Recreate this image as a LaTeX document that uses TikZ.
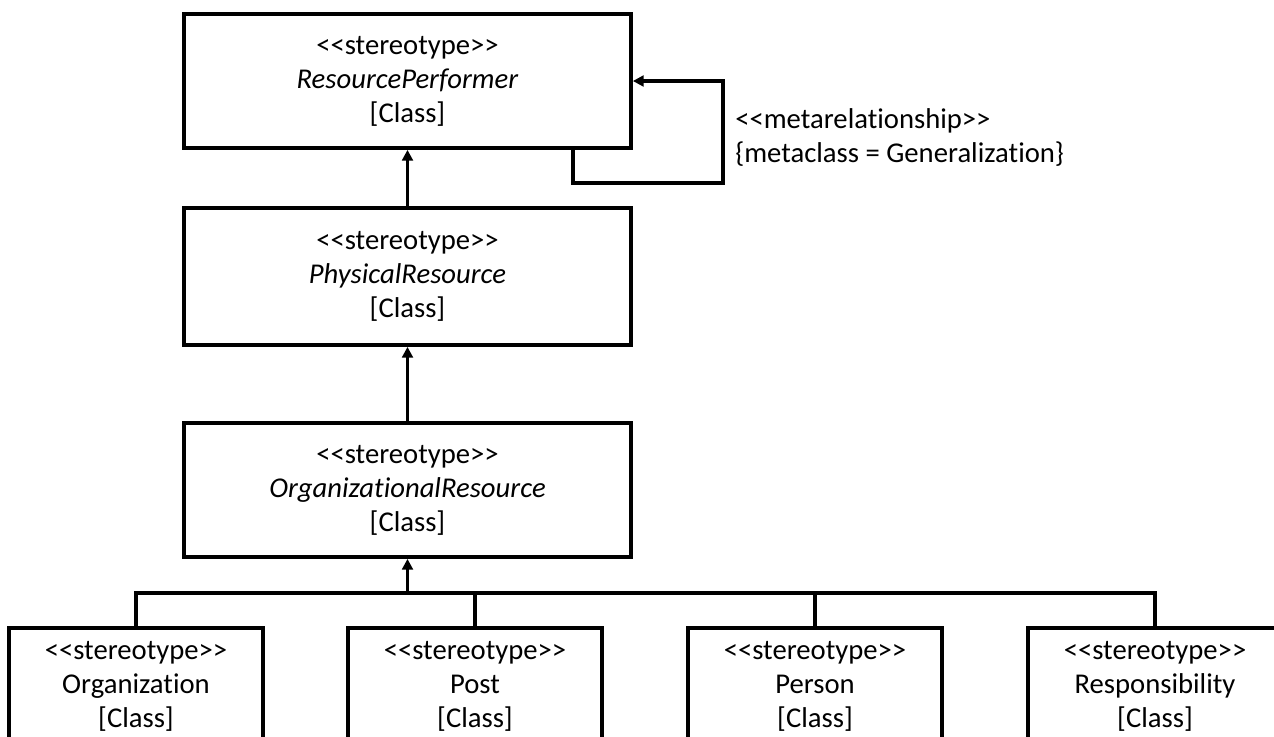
\documentclass[tikz,border=0pt]{standalone}
\usepackage{fontspec}
\setmainfont{Carlito}[Ligatures={TeX,CommonOff,ContextualOff},RawFeature={-calt}]
\usetikzlibrary{arrows.meta}
% double angle brackets and a plain "ti", written with kerns so no ligature is formed
\newcommand\dlt{<\kern0pt<}
\newcommand\dgt{>\kern0pt>}
\newcommand\tI{t\kern0pt i}
\begin{document}
\begin{tikzpicture}[x=0.75pt,y=-0.75pt,
  cls/.style={draw=black, line width=2.8pt, fill=white, align=center, inner sep=0pt,
    font=\fontsize{21.5}{25.5}\selectfont},
  wide/.style={minimum width=335.25pt, minimum height=100.5pt},
  leaf/.style={minimum width=190.5pt, minimum height=87pt},
  conn/.style={line width=2.6pt},
  gen/.style={conn, -{Triangle[length=8pt,width=8pt]}}]
\useasboundingbox (0,0) rectangle (1274,736);
\clip (0,0) rectangle (1274,736);

% upper chain of stereotypes
\node[cls,wide] (rp) at (407.5,81)
  {\dlt stereotype\dgt\\\textit{ResourcePerformer}\\{[Class]}};
\node[cls,wide,minimum height=102.75pt] (pr) at (407.5,276.5)
  {\dlt stereotype\dgt\\\textit{PhysicalResource}\\{[Class]}};
\node[cls,wide] (or) at (407.5,490)
  {\dlt stereotype\dgt\\\textit{Organiza\tI onalResource}\\{[Class]}};

% leaf stereotypes
\node[cls,leaf] (org) at (136,686) {\dlt stereotype\dgt\\Organiza\tI on\\{[Class]}};
\node[cls,leaf] (post) at (475,686) {\dlt stereotype\dgt\\Post\\{[Class]}};
\node[cls,leaf] (person) at (815,686) {\dlt stereotype\dgt\\Person\\{[Class]}};
\node[cls,leaf] (resp) at (1155,686) {\dlt stereotype\dgt\\Responsibility\\{[Class]}};

% generalizations
\draw[gen] (pr) -- (rp);
\draw[gen] (or) -- (pr);

\coordinate (bus) at (407.5,593);
\draw[gen] (bus) -- (or.south);
\draw[conn] (org.north) -- (org.north |- bus) -- (resp.north |- bus) -- (resp.north);
\draw[conn] (post.north) -- (post.north |- bus);
\draw[conn] (person.north) -- (person.north |- bus);

% self generalization of ResourcePerformer
\coordinate (lp) at (573,183);
\coordinate (lr) at (723,183);
\draw[gen] (rp.south -| lp) -- (lp) -- (lr) |- (rp.east);
\node[anchor=west, align=left, inner sep=0pt, font=\fontsize{21.5}{25.5}\selectfont] (meta)
  at (735,137.5) {\dlt metarela\tI onship\dgt\\\{metaclass = Generaliza\tI on\}};
\end{tikzpicture}
\end{document}
